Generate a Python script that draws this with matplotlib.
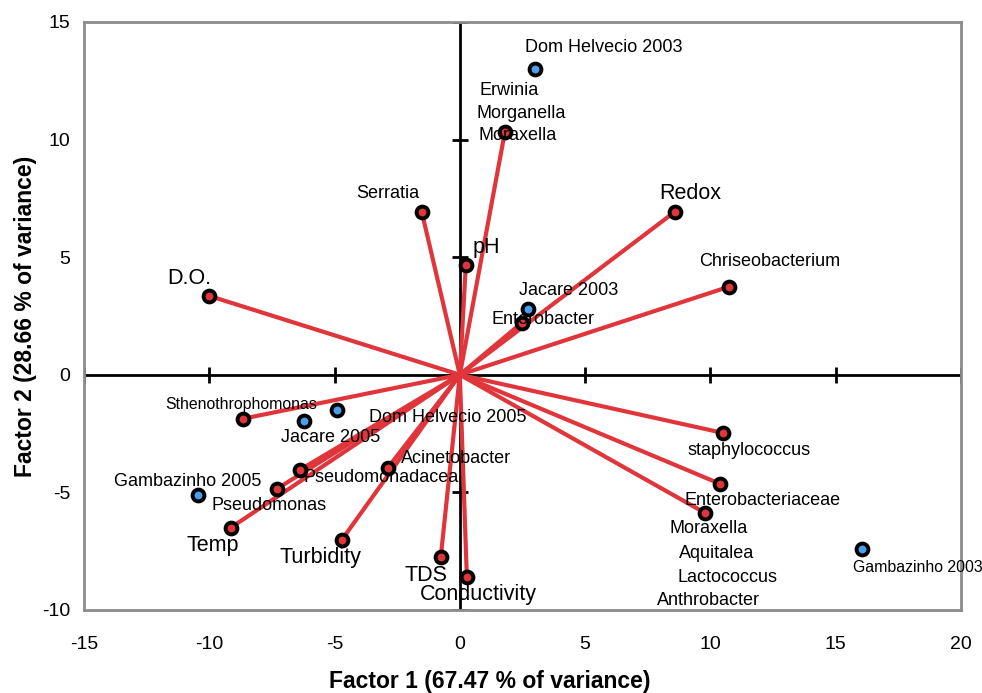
import matplotlib
matplotlib.use("Agg")
import matplotlib.pyplot as plt
import numpy as np

plt.rcParams['font.family'] = ['Liberation Sans', 'DejaVu Sans']
plt.rcParams['axes.unicode_minus'] = False

# Variable vectors (drawn as red rays from origin)
var_names = ["D.O.", "Serratia", "Moraxella", "pH", "Redox", "Chriseobacterium",
             "Enterobacter", "Sthenothrophomonas", "Pseudomonadacea", "Pseudomonas",
             "Acinetobacter", "Temp", "Turbidity", "TDS", "Conductivity",
             "staphylococcus", "Enterobacteriaceae", "Moraxella2"]
var_x = [-10.02, -1.52, 1.80, 0.24, 8.58, 10.73, 2.47, -8.66, -6.38, -7.30,
         -2.87, -9.14, -4.71, -0.76, 0.28, 10.49, 10.37, 9.78]
var_y = [3.36, 6.93, 10.33, 4.68, 6.93, 3.74, 2.21, -1.87, -4.04, -4.85,
         -3.95, -6.50, -7.02, -7.74, -8.59, -2.47, -4.63, -5.87]

# Site scores (blue centred points)
site_names = ["Dom Helvecio 2003", "Jacare 2003", "Dom Helvecio 2005",
              "Jacare 2005", "Gambazinho 2005", "Gambazinho 2003"]
site_x = [2.99, 2.71, -4.91, -6.23, -10.45, 16.04]
site_y = [13.01, 2.81, -1.49, -1.96, -5.10, -7.40]

# Text labels
label_text = ["Dom Helvecio 2003", "Erwinia", "Morganella", "Moraxella", "Serratia",
              "Redox", "pH", "D.O.", "Chriseobacterium", "Jacare 2003", "Enterobacter",
              "Sthenothrophomonas", "Dom Helvecio 2005", "Jacare 2005", "Acinetobacter",
              "Pseudomonadacea", "Gambazinho 2005", "Pseudomonas", "Temp", "Turbidity",
              "TDS", "Conductivity", "staphylococcus", "Enterobacteriaceae", "Moraxella",
              "Aquitalea", "Lactococcus", "Anthrobacter", "Gambazinho 2003"]
label_x = [5.75, 1.96, 2.43, 2.31, -2.87, 9.18, 1.04, -10.8, 12.37, 4.35, 3.31,
           -8.74, -0.48, -5.15, -0.16, -3.15, -10.85, -7.62, -9.86, -5.55,
           -1.36, 0.76, 11.53, 12.09, 9.94, 10.26, 10.69, 9.94, 18.28]
label_y = [13.9, 12.07, 11.1, 10.16, 7.70, 7.70, 5.40, 4.08, 4.8, 3.57, 2.34,
           -1.28, -1.83, -2.68, -3.57, -4.38, -4.55, -5.57, -7.27, -7.78,
           -8.55, -9.35, -3.23, -5.36, -6.55, -7.61, -8.63, -9.61, -8.21]
label_size = [13, 13, 13, 13, 13, 15.5, 15.5, 15.5, 13, 13, 13,
              11.4, 13, 13, 13, 13, 13, 13, 15.5, 15.5,
              15.5, 15.5, 13, 13, 13, 13, 13, 13, 11.4]

x_ticks = [-15, -10, -5, 0, 5, 10, 15, 20]
y_ticks = [-10, -5, 0, 5, 10, 15]

red = "#e0363b"
blue = "#4a9ff0"

fig = plt.figure(figsize=(9.82, 6.93), dpi=100)
ax = fig.add_axes([0.0855, 0.1198, 0.8931, 0.8485])
ax.set_xlim(-15, 20)
ax.set_ylim(-10, 15)

for s in ax.spines.values():
    s.set_color("#8c8c8c")
    s.set_linewidth(2)

# central axes
ax.axhline(0, color="black", lw=2, zorder=1)
ax.axvline(0, color="black", lw=2, zorder=1)
ax.plot(x_ticks, [0] * len(x_ticks), ls="none", marker="|", ms=12, mew=2, color="black", zorder=1)
ax.plot([0] * len(y_ticks), y_ticks, ls="none", marker="_", ms=12, mew=2, color="black", zorder=1)

# rays
for x, y in zip(var_x, var_y):
    ax.plot([0, x], [0, y], color=red, lw=3.0, solid_capstyle="butt", zorder=2)

ax.plot(var_x, var_y, ls="none", marker="o", ms=8.5, mfc=red, mec="black", mew=2.8, zorder=4)
ax.plot(site_x, site_y, ls="none", marker="o", ms=8.5, mfc=blue, mec="black", mew=2.8, zorder=4)

for t, x, y, s in zip(label_text, label_x, label_y, label_size):
    ax.text(x, y, t, fontsize=s, ha="center", va="center", zorder=5, clip_on=False)

ax.set_xticks(x_ticks)
ax.set_yticks(y_ticks)
ax.set_xticklabels([str(v) for v in x_ticks])
ax.set_yticklabels([str(v) for v in y_ticks])
ax.tick_params(length=0, labelsize=14)
ax.tick_params(axis="x", pad=19)
ax.tick_params(axis="y", pad=10)

fig.text(0.499, 0.017, "Factor 1 (67.47 % of variance)", fontsize=16.5,
         fontweight="bold", ha="center", va="center")
fig.text(0.0255, 0.544, "Factor 2 (28.66 % of variance)", fontsize=16.5,
         fontweight="bold", ha="center", va="center", rotation=90)

fig.savefig("out.png", dpi=100)
